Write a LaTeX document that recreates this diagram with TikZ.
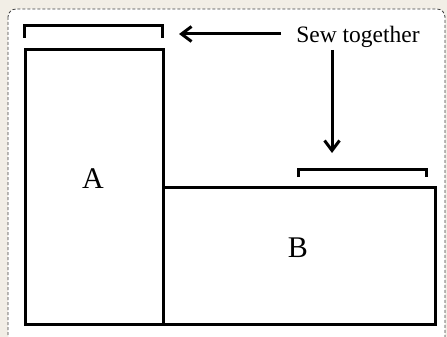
\documentclass[tikz,border=0pt]{standalone}
\usepackage{fontspec}
\setmainfont{Liberation Serif}
\usetikzlibrary{arrows.meta}
\definecolor{bgbeige}{RGB}{242,238,230}
\begin{document}
\begin{tikzpicture}[x=1pt,y=-1pt,
  piece/.style={draw=black,line width=3pt},
  bracket/.style={draw=black,line width=3pt},
  arr/.style={draw=black,line width=3pt,-{Straight Barb[length=10pt,width=15pt,line width=3pt]}},
  frame/.style={draw=black!75,line width=0.8pt,dash pattern=on 3pt off 2pt,rounded corners=8pt,fill=white},
  lbl/.style={font=\fontsize{30}{30}\selectfont,inner sep=0pt}]
\useasboundingbox (0,0) rectangle (447,337);
\fill[bgbeige] (0,0) rectangle (447,337);
\begin{scope}
\clip (0,0) rectangle (447,337);
\draw[frame] (8,9) rectangle (445,345);
\end{scope}
% pieces
\node[piece,minimum width=138pt,minimum height=275pt,anchor=north west,inner sep=0pt] (A) at (24,48) {};
\node[piece,minimum width=272pt,minimum height=137pt,anchor=north west,inner sep=0pt] (B) at (162,186) {};
\node[lbl] (la) at (93,179) {A};
\node[lbl] (lb) at (298,248) {B};
% brackets
\coordinate (b1l) at (24,38);
\coordinate (b1r) at (162,38);
\draw[bracket] (b1l) -- ++(0,-12) -| (b1r);
\coordinate (b2l) at (298,177);
\coordinate (b2r) at (426,177);
\draw[bracket] (b2l) -- ++(0,-8) -| (b2r);
% text and arrows
\node[font=\fontsize{23.5}{23.5}\selectfont,inner sep=0pt,anchor=base] (sew) at (358,43) {Sew together};
\coordinate (ls) at (281,34);
\coordinate (lt) at (179,34);
\coordinate (ds) at (332,50);
\coordinate (dt) at (332,153);
\draw[arr] (ls) -- (lt);
\draw[arr] (ds) -- (dt);
\end{tikzpicture}
\end{document}
